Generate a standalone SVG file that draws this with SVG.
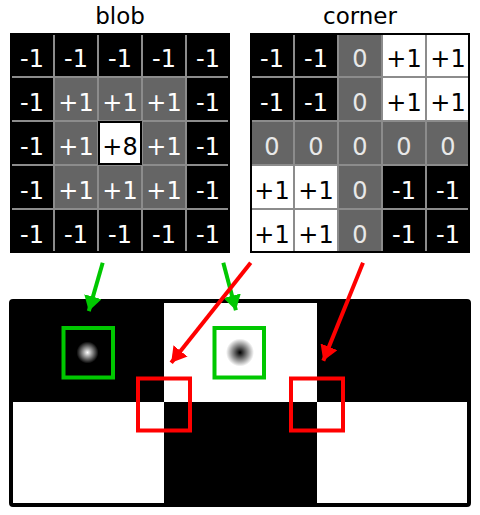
<svg xmlns="http://www.w3.org/2000/svg" width="480" height="515" viewBox="0 0 480 515">
<style>
text{font-family:"DejaVu Sans","Liberation Sans",sans-serif;font-size:24px;text-anchor:middle}
.title{fill:#000;font-size:23px}
.k{fill:#000}.g{fill:#656565}.w{fill:#fff}
.tw{fill:#fff}.tb{fill:#000}.tz{fill:#e8e8e8}
.gl{stroke:#8c8c8c;stroke-width:2;fill:none}
.frame{fill:none;stroke:#000;stroke-width:2}
.gbox{fill:none;stroke:#00c800;stroke-width:4}
.rbox{fill:none;stroke:#ff0000;stroke-width:4}
.ga{stroke:#00c800;stroke-width:4;fill:none}
.ra{stroke:#ff0000;stroke-width:4;fill:none}
</style>
<defs>
<marker id="hg" viewBox="0 0 15 18" refX="15" refY="9" markerWidth="15" markerHeight="18" markerUnits="userSpaceOnUse" orient="auto"><path d="M0,0 L15,9 L0,18 z" fill="#00c800"/></marker>
<marker id="hr" viewBox="0 0 15 18" refX="15" refY="9" markerWidth="15" markerHeight="18" markerUnits="userSpaceOnUse" orient="auto"><path d="M0,0 L15,9 L0,18 z" fill="#ff0000"/></marker>
<radialGradient id="wb"><stop offset="0" stop-color="#fff"/><stop offset="0.4" stop-color="#fff" stop-opacity="0.6"/><stop offset="1" stop-color="#fff" stop-opacity="0"/></radialGradient>
<radialGradient id="kb"><stop offset="0" stop-color="#000"/><stop offset="0.4" stop-color="#000" stop-opacity="0.6"/><stop offset="1" stop-color="#000" stop-opacity="0"/></radialGradient>
</defs>
<rect width="480" height="515" fill="#fff"/>

<g id="blob-kernel">
<text class="title" x="120" y="24">blob</text>
<rect class="k" x="10" y="33" width="220" height="220"/>
<rect class="g" x="54" y="77" width="132" height="132"/>
<path class="gl" d="M54,35V251M98,35V251M142,35V251M186,35V251M12,77H228M12,121H228M12,165H228M12,209H228"/>
<rect class="w" x="99" y="122" width="42" height="42" stroke="#000" stroke-width="2"/>
<rect class="frame" x="11" y="34" width="218" height="218"/>
<g class="tw">
<text x="32" y="67">-1</text><text x="76" y="67">-1</text><text x="120" y="67">-1</text><text x="164" y="67">-1</text><text x="208" y="67">-1</text>
<text x="32" y="111">-1</text><text x="76" y="111">+1</text><text x="120" y="111">+1</text><text x="164" y="111">+1</text><text x="208" y="111">-1</text>
<text x="32" y="155">-1</text><text x="76" y="155">+1</text><text x="164" y="155">+1</text><text x="208" y="155">-1</text>
<text x="32" y="199">-1</text><text x="76" y="199">+1</text><text x="120" y="199">+1</text><text x="164" y="199">+1</text><text x="208" y="199">-1</text>
<text x="32" y="243">-1</text><text x="76" y="243">-1</text><text x="120" y="243">-1</text><text x="164" y="243">-1</text><text x="208" y="243">-1</text>
</g>
<text class="tb" x="120" y="155">+8</text>
</g>

<g id="corner-kernel">
<text class="title" x="360" y="24">corner</text>
<rect class="g" x="250" y="33" width="220" height="220"/>
<rect class="k" x="250" y="33" width="88" height="88"/>
<rect class="w" x="382" y="33" width="88" height="88"/>
<rect class="w" x="250" y="165" width="88" height="88"/>
<rect class="k" x="382" y="165" width="88" height="88"/>
<path class="gl" d="M294,35V251M338,35V251M382,35V251M426,35V251M252,77H468M252,121H468M252,165H468M252,209H468"/>
<rect class="frame" x="251" y="34" width="218" height="218"/>
<g class="tw">
<text x="272" y="67">-1</text><text x="316" y="67">-1</text>
<text x="272" y="111">-1</text><text x="316" y="111">-1</text>
<text x="404" y="199">-1</text><text x="448" y="199">-1</text>
<text x="404" y="243">-1</text><text x="448" y="243">-1</text>
</g>
<g class="tz">
<text x="360" y="67">0</text><text x="360" y="111">0</text>
<text x="272" y="155">0</text><text x="316" y="155">0</text><text x="360" y="155">0</text><text x="404" y="155">0</text><text x="448" y="155">0</text>
<text x="360" y="199">0</text><text x="360" y="243">0</text>
</g>
<g class="tb">
<text x="404" y="67">+1</text><text x="448" y="67">+1</text>
<text x="404" y="111">+1</text><text x="448" y="111">+1</text>
<text x="272" y="199">+1</text><text x="316" y="199">+1</text>
<text x="272" y="243">+1</text><text x="316" y="243">+1</text>
</g>
</g>

<g id="image">
<rect class="k" x="11" y="301" width="458" height="204"/>
<rect class="w" x="164" y="301" width="153" height="101"/>
<rect class="w" x="11" y="402" width="153" height="103"/>
<rect class="w" x="317" y="402" width="152" height="103"/>
<circle cx="87.5" cy="352.5" r="11" fill="url(#wb)"/>
<circle cx="240" cy="352.5" r="14" fill="url(#kb)"/>
<rect x="11" y="301" width="458" height="204" rx="2" fill="none" stroke="#000" stroke-width="4"/>
</g>

<g id="blob-detections">
<rect class="gbox" x="63.5" y="328" width="49.5" height="49.5"/>
<rect class="gbox" x="214.5" y="328" width="49.5" height="49.5"/>
</g>

<g id="corner-detections">
<rect class="rbox" x="138" y="378.5" width="52" height="52"/>
<rect class="rbox" x="291" y="378.5" width="52" height="52"/>
</g>

<g id="connectors">
<line class="ga" x1="102.7" y1="262.7" x2="88.8" y2="311.1" marker-end="url(#hg)"/>
<line class="ga" x1="223.3" y1="262.7" x2="235.9" y2="310.3" marker-end="url(#hg)"/>
<line class="ra" x1="250.7" y1="262.7" x2="171.2" y2="362.7" marker-end="url(#hr)"/>
<line class="ra" x1="363" y1="262.7" x2="323.3" y2="360.7" marker-end="url(#hr)"/>
</g>
</svg>
